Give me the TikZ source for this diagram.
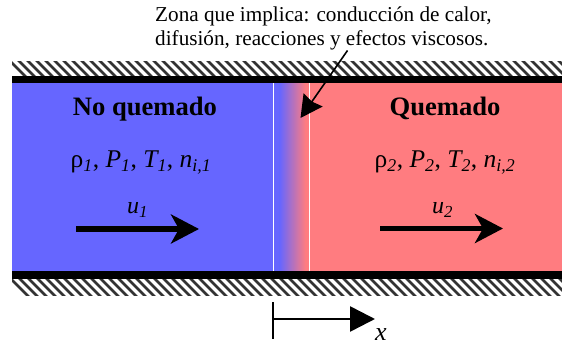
\documentclass[tikz,border=0pt]{standalone}
\usepackage{fontspec}
\setmainfont{Liberation Serif}
\usetikzlibrary{arrows.meta}
\definecolor{coldgas}{RGB}{102,102,255}
\definecolor{hotgas}{RGB}{255,124,128}
\newcommand{\subit}[2]{{\itshape #1\textsubscript{#2}}}
\tikzset{
  x=1pt,y=1pt,
  wallbar/.style={fill=black,draw=none},
  hatchline/.style={line width=2.6pt,black!80},
  frontline/.style={white,line width=1pt},
  title/.style={font=\fontsize{26.6}{30}\selectfont\bfseries,inner sep=0pt,anchor=base},
  props/.style={font=\fontsize{25.5}{30}\selectfont,inner sep=0pt,anchor=base},
  vel/.style={font=\fontsize{24}{28}\selectfont\itshape,inner sep=0pt,anchor=base},
  axislabel/.style={font=\fontsize{26}{30}\selectfont\itshape,inner sep=0pt,anchor=base},
  note/.style={font=\fontsize{21.2}{24}\selectfont,inner sep=0pt,anchor=base west},
  flow/.style={line width=5.4pt,-{Stealth[length=28pt,width=29pt,inset=8pt]}},
  pointer/.style={line width=1.6pt,-{Stealth[length=22pt,width=23pt,inset=2pt]}},
  axisarrow/.style={line width=2.6pt,-{Triangle[length=25pt,width=25pt]}},
}
\begin{document}
\begin{tikzpicture}
\useasboundingbox (0,0) rectangle (562,343);
% y flipped: image y -> 343-y
% hatched walls
\begin{scope}
\clip (12,343-62) rectangle (562,343-77);
\foreach \i in {0,...,64}{\draw[hatchline] ({4+9*\i},343-55) -- ({4+9*\i+30},343-85);}
\end{scope}
\begin{scope}
\clip (12,343-278) rectangle (562,343-295);
\foreach \i in {0,...,64}{\draw[hatchline] ({4+9*\i},343-272) -- ({4+9*\i+30},343-302);}
\end{scope}
% gases
\fill[coldgas] (12,343-83) rectangle (280,343-271);
\fill[hotgas] (305,343-83) rectangle (562,343-271);
\shade[left color=coldgas,right color=hotgas,shading angle=90,draw=none] (279.5,343-83) rectangle (305.5,343-271);
\coordinate (f1t) at (273,343-83);
\coordinate (f1b) at (273,343-271);
\coordinate (f2t) at (309,343-83);
\coordinate (f2b) at (309,343-271);
\draw[frontline] (f1t) -- (f1b);
\draw[frontline] (f2t) -- (f2b);
% solid walls
\fill[wallbar] (12,343-76) rectangle (562,343-83);
\fill[wallbar] (12,343-271) rectangle (562,343-279);
% texts
\node[note] (zona1) at (155,343-22) {Zona que implica: conducción de calor,};
\node[note] (zona2) at (155,343-46) {difusión, reacciones y efectos viscosos.};
\node[title] (nq) at (145,343-116) {No quemado};
\node[title] (q) at (445,343-116) {Quemado};
\node[props] (p1) at (141,343-168) {ρ\subit{}{1}, \subit{P}{1}, \subit{T}{1}, \subit{n}{i,1}};
\node[props] (p2) at (445,343-168) {ρ\subit{}{2}, \subit{P}{2}, \subit{T}{2}, \subit{n}{i,2}};
\node[vel] (u1) at (137.5,343-214) {u\textsubscript{1}};
\node[vel] (u2) at (442.5,343-214) {u\textsubscript{2}};
\node[axislabel] (xl) at (381,343-340) {x};
% arrows
\coordinate (pa) at (347.5,343-50.5);
\coordinate (pb) at (300.5,343-118);
\draw[pointer] (pa) -- (pb);
\coordinate (a1) at (76,343-229);
\coordinate (b1) at (199,343-229);
\draw[flow] (a1) -- (b1);
\coordinate (a2) at (380,343-228.5);
\coordinate (b2) at (503,343-228.5);
\draw[flow] (a2) -- (b2);
\coordinate (xa) at (273,343-319);
\coordinate (xb) at (375,343-319);
\draw[axisarrow] (xa) -- (xb);
\coordinate (xt) at (273,343-302);
\coordinate (xd) at (273,343-339);
\draw[line width=1.8pt] (xt) -- (xd);
\end{tikzpicture}
\end{document}
